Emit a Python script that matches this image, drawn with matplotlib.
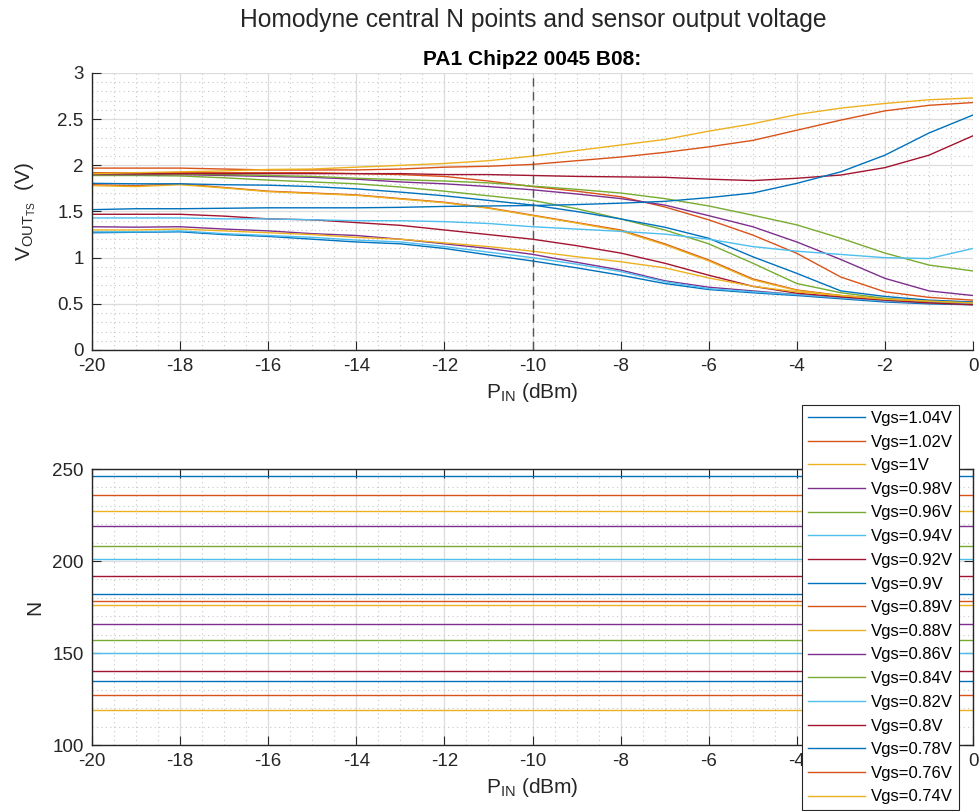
import numpy as np
import matplotlib
matplotlib.use("Agg")
import matplotlib.pyplot as plt
from matplotlib.ticker import MultipleLocator

plt.rcParams['font.family'] = ['Liberation Sans', 'DejaVu Sans']
plt.rcParams['mathtext.fontset'] = 'custom'
plt.rcParams['mathtext.rm'] = 'Liberation Sans'
plt.rcParams['mathtext.it'] = 'Liberation Sans'

# ---------------- data ----------------
p_in = np.arange(-20, 1, 1)  # dBm

vgs_labels = ["Vgs=1.04V", "Vgs=1.02V", "Vgs=1V", "Vgs=0.98V", "Vgs=0.96V", "Vgs=0.94V",
              "Vgs=0.92V", "Vgs=0.9V", "Vgs=0.89V", "Vgs=0.88V", "Vgs=0.86V", "Vgs=0.84V",
              "Vgs=0.82V", "Vgs=0.8V", "Vgs=0.78V", "Vgs=0.76V", "Vgs=0.74V"]

v_104 = [1.27, 1.275, 1.28, 1.25, 1.23, 1.20, 1.17, 1.15, 1.10, 1.03, 0.964, 0.89, 0.81, 0.72, 0.655, 0.62, 0.59, 0.555, 0.52, 0.50, 0.49]
v_102 = [1.79, 1.78, 1.80, 1.76, 1.72, 1.70, 1.68, 1.64, 1.60, 1.54, 1.46, 1.38, 1.30, 1.15, 0.975, 0.77, 0.65, 0.59, 0.555, 0.53, 0.52]
v_100 = [1.78, 1.77, 1.79, 1.755, 1.715, 1.695, 1.675, 1.635, 1.595, 1.535, 1.455, 1.375, 1.29, 1.14, 0.965, 0.76, 0.645, 0.585, 0.55, 0.525, 0.515]
v_098 = [1.335, 1.33, 1.335, 1.31, 1.29, 1.26, 1.24, 1.20, 1.15, 1.10, 1.036, 0.95, 0.866, 0.75, 0.68, 0.64, 0.60, 0.565, 0.53, 0.51, 0.50]
v_096 = [1.89, 1.89, 1.885, 1.865, 1.84, 1.82, 1.80, 1.765, 1.72, 1.67, 1.62, 1.53, 1.42, 1.30, 1.15, 0.94, 0.72, 0.62, 0.56, 0.52, 0.51]
v_094 = [1.28, 1.28, 1.29, 1.26, 1.24, 1.22, 1.19, 1.17, 1.12, 1.06, 1.00, 0.93, 0.85, 0.74, 0.665, 0.63, 0.60, 0.565, 0.53, 0.51, 0.495]
v_092 = [1.47, 1.47, 1.47, 1.45, 1.42, 1.41, 1.38, 1.35, 1.30, 1.25, 1.20, 1.13, 1.05, 0.94, 0.81, 0.69, 0.615, 0.575, 0.54, 0.51, 0.49]
v_090 = [1.805, 1.80, 1.80, 1.79, 1.785, 1.77, 1.745, 1.71, 1.67, 1.62, 1.57, 1.50, 1.42, 1.33, 1.21, 1.01, 0.83, 0.64, 0.58, 0.54, 0.52]
v_089 = [1.92, 1.92, 1.92, 1.92, 1.92, 1.92, 1.91, 1.90, 1.88, 1.83, 1.77, 1.72, 1.66, 1.55, 1.41, 1.245, 1.047, 0.79, 0.63, 0.57, 0.54]
v_088 = [1.30, 1.30, 1.31, 1.29, 1.27, 1.25, 1.22, 1.20, 1.16, 1.12, 1.07, 1.01, 0.956, 0.89, 0.78, 0.69, 0.63, 0.59, 0.55, 0.53, 0.51]
v_086 = [1.90, 1.90, 1.90, 1.89, 1.88, 1.87, 1.85, 1.82, 1.80, 1.77, 1.735, 1.69, 1.64, 1.57, 1.455, 1.335, 1.17, 0.98, 0.776, 0.64, 0.59]
v_084 = [1.91, 1.91, 1.905, 1.90, 1.89, 1.88, 1.86, 1.845, 1.83, 1.81, 1.775, 1.74, 1.70, 1.64, 1.56, 1.46, 1.355, 1.21, 1.05, 0.92, 0.856]
v_082 = [1.43, 1.43, 1.43, 1.42, 1.42, 1.41, 1.40, 1.40, 1.39, 1.37, 1.335, 1.31, 1.285, 1.255, 1.20, 1.12, 1.07, 1.035, 1.00, 0.99, 1.10]
v_080 = [1.91, 1.91, 1.91, 1.91, 1.91, 1.91, 1.91, 1.91, 1.90, 1.90, 1.89, 1.88, 1.875, 1.87, 1.85, 1.835, 1.86, 1.895, 1.975, 2.11, 2.32]
v_078 = [1.52, 1.53, 1.53, 1.535, 1.54, 1.54, 1.54, 1.545, 1.555, 1.56, 1.565, 1.575, 1.59, 1.61, 1.65, 1.70, 1.805, 1.93, 2.11, 2.35, 2.545]
v_076 = [1.97, 1.97, 1.97, 1.96, 1.95, 1.95, 1.95, 1.96, 1.98, 1.99, 2.01, 2.05, 2.09, 2.14, 2.20, 2.27, 2.38, 2.49, 2.59, 2.65, 2.68]
v_074 = [1.91, 1.92, 1.93, 1.94, 1.955, 1.96, 1.98, 2.00, 2.02, 2.05, 2.10, 2.16, 2.22, 2.28, 2.37, 2.45, 2.55, 2.62, 2.67, 2.71, 2.73]

n_points = [246, 236, 227, 219, 208, 201, 192, 182, 178, 176, 166, 157, 150, 140, 135, 127, 119]

vout_series = [v_104, v_102, v_100, v_098, v_096, v_094, v_092, v_090, v_089,
               v_088, v_086, v_084, v_082, v_080, v_078, v_076, v_074]

x_ticks = list(range(-20, 1, 2))
x_tick_labels = [str(t) for t in x_ticks]

matlab_colors = ['#0072BD', '#D95319', '#EDB120', '#7E2F8E', '#77AC30', '#4DBEEE', '#A2142F']

# ---------------- figure ----------------
fig = plt.figure(figsize=(9.8, 8.11), dpi=100)
ax1 = fig.add_axes([92/980, 1-350/811, 881/980, 277/811])
ax2 = fig.add_axes([92/980, 1-745/811, 881/980, 276/811])

spine_col = '#262626'
tick_fs = 13.5

def style(ax, box):
    ax.set_xlim(-20, 0)
    ax.xaxis.set_minor_locator(MultipleLocator(0.5))
    ax.grid(True, which='major', color='#dcdcdc', linewidth=0.9)
    ax.grid(True, which='minor', color='#c8c8c8', linestyle=(0, (1, 3)), linewidth=0.8)
    ax.set_axisbelow(True)
    for s in ['left', 'bottom']:
        ax.spines[s].set_color(spine_col)
        ax.spines[s].set_linewidth(1.0)
    for s in ['top', 'right']:
        ax.spines[s].set_visible(box)
        ax.spines[s].set_color(spine_col)
        ax.spines[s].set_linewidth(1.0)
    ax.tick_params(which='major', direction='in', length=6.5, width=0.8, color=spine_col,
                   labelsize=tick_fs, labelcolor='#262626', top=box, right=box, pad=6)
    ax.tick_params(which='minor', length=0, top=False, right=False)

for i, v in enumerate(vout_series):
    ax1.plot(p_in, v, color=matlab_colors[i % 7], linewidth=1.0, label=vgs_labels[i])
ax1.axvline(-10, color='#555555', linestyle=(0, (6, 4)), linewidth=1.0)
style(ax1, False)
ax1.set_ylim(0, 3)
ax1.yaxis.set_minor_locator(MultipleLocator(0.1))
ax1.set_xticks(x_ticks)
ax1.set_xticklabels(x_tick_labels)
ax1.set_yticks([0, 0.5, 1, 1.5, 2, 2.5, 3])
ax1.set_yticklabels(['0', '0.5', '1', '1.5', '2', '2.5', '3'])
ax1.set_xlabel(r'P$_{\mathregular{IN}}$ (dBm)', fontsize=15, color='#262626')
ax1.set_ylabel(r'V$_{\mathregular{OUT}_{\mathregular{TS}}}$  (V)', fontsize=15, color='#262626',
               labelpad=14)
ax1.set_title('PA1 Chip22 0045 B08:', fontsize=15, fontweight='bold', pad=6)

lines2 = []
for i, n in enumerate(n_points):
    ln, = ax2.plot(p_in, np.full(len(p_in), n), color=matlab_colors[i % 7], linewidth=1.0,
                   label=vgs_labels[i])
    lines2.append(ln)
style(ax2, True)
ax2.set_ylim(100, 250)
ax2.set_yticks([100, 150, 200, 250])
ax2.yaxis.set_minor_locator(MultipleLocator(10))
ax2.set_xticks(x_ticks)
# the "-2" label sits fully under the legend in the reference
ax2.set_xticklabels([lab if t != -2 else '' for t, lab in zip(x_ticks, x_tick_labels)])
ax2.set_xlabel(r'P$_{\mathregular{IN}}$ (dBm)', fontsize=15, color='#262626')
ax2.set_ylabel('N', fontsize=15, color='#262626', labelpad=6)

fig.text(533/980, 1-20/811, 'Homodyne central N points and sensor output voltage',
         ha='center', va='center', fontsize=17.7, color='#262626')

leg = fig.legend(handles=lines2, labels=vgs_labels, loc='upper left',
                 bbox_to_anchor=(802/980, 1-405/811), fontsize=12, frameon=True,
                 fancybox=False, framealpha=1, edgecolor='#262626', labelspacing=0.52,
                 handlelength=3.4, handletextpad=0.4, borderpad=0.35, borderaxespad=0)
leg.get_frame().set_linewidth(0.8)
leg.set_zorder(10)

fig.savefig('out.png', dpi=100)
